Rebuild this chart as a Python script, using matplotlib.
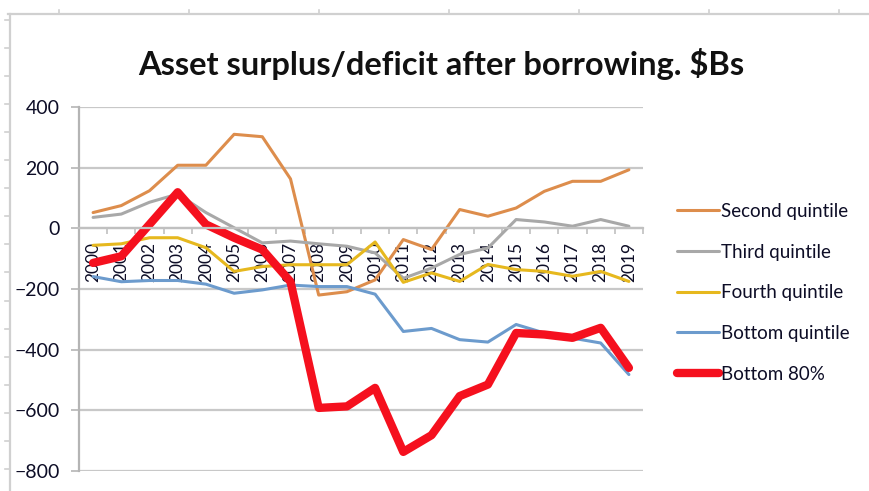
import numpy as np
import matplotlib.pyplot as plt
from matplotlib.lines import Line2D

plt.rcParams['font.family'] = ['Lato', 'DejaVu Sans']

# anni e serie (miliardi di dollari)
years = [str(y) for y in range(2000, 2020)]
second_q = [52, 75, 124, 208, 208, 310, 302, 163, -220, -209, -170, -37, -70, 62, 40, 67, 122, 155, 155, 193]
third_q = [36, 47, 86, 113, 52, 2, -48, -42, -51, -59, -81, -165, -131, -86, -65, 29, 21, 7, 29, 7]
fourth_q = [-56, -51, -31, -31, -64, -142, -126, -120, -120, -120, -45, -178, -147, -175, -119, -136, -142, -158, -142, -175]
bottom_q = [-159, -176, -172, -172, -184, -214, -203, -187, -192, -192, -217, -340, -330, -367, -375, -317, -345, -362, -378, -482]
bottom_80 = [-114, -92, 13, 119, 13, -31, -70, -176, -592, -587, -526, -737, -682, -553, -515, -345, -350, -361, -328, -460]

serie = [
    ('Second quintile', second_q, '#DD8D4C', 2.2),
    ('Third quintile', third_q, '#A8A8A8', 2.2),
    ('Fourth quintile', fourth_q, '#E6B81E', 2.2),
    ('Bottom quintile', bottom_q, '#6C9BCD', 2.2),
    ('Bottom 80%', bottom_80, '#F5101E', 6.0),
]

fig = plt.figure(figsize=(8.69, 4.91), dpi=100)
ax = fig.add_axes([79/869, 1-471/491, (643-79)/869, (471-107)/491])

x = np.arange(len(years))
for nome, valori, colore, lw in serie:
    ax.plot(x, valori, color=colore, lw=lw, label=nome, solid_capstyle='round', solid_joinstyle='round')

ax.set_xlim(-0.5, len(years) - 0.5)
ax.set_ylim(-800, 400)
ax.set_yticks(range(-800, 401, 200))
ax.yaxis.grid(True, color='#C8C8C8', lw=1.6)
ax.set_axisbelow(True)

# asse delle categorie sullo zero
for s in ['top', 'right']:
    ax.spines[s].set_visible(False)
ax.spines['left'].set_color('#B4B4B4')
ax.spines['left'].set_linewidth(1.6)
ax.spines['bottom'].set_position(('data', 0))
ax.spines['bottom'].set_color('#C0C0C0')
ax.spines['bottom'].set_linewidth(1.6)

ax.set_xticks(np.arange(-0.5, len(years), 1.0))
ax.set_xticklabels([])
ax.tick_params(axis='x', which='major', direction='out', length=4, width=1.2, color='#C0C0C0')
ax.set_xticks(x, minor=True)
ax.set_xticklabels(years, minor=True, rotation=90, fontsize=12.5, color='#0D0D26')
ax.tick_params(axis='x', which='minor', length=0, pad=10)
for t in ax.get_xticklabels(minor=True):
    t.set_verticalalignment('top')

ax.tick_params(axis='y', direction='out', length=6, width=1.4, color='#C0C0C0', pad=8, labelsize=14, labelcolor='#0D0D26')

fig.text(441/869, 1-64/491, 'Asset surplus/deficit after borrowing. $Bs', ha='center', va='center',
         fontsize=23.5, fontweight='bold', color='#111111')

leg = ax.legend(loc='upper left', bbox_to_anchor=(677/869, 1-203/491), bbox_transform=fig.transFigure,
                frameon=False, fontsize=13.5, handlelength=2.25, handletextpad=0.1, labelspacing=1.26,
                borderaxespad=0, borderpad=0)
for t in leg.get_texts():
    t.set_color('#0D0D26')

# cornice del foglio
cornice = '#D0D0D0'
fig.add_artist(Line2D([8/869, 1], [1-14/491, 1-14/491], color=cornice, lw=1.6, transform=fig.transFigure))
fig.add_artist(Line2D([10/869, 10/869], [0, 1-14/491], color=cornice, lw=1.6, transform=fig.transFigure))
for yy in np.arange(19.5, 491, 28.1):
    fig.add_artist(Line2D([5/869, 10/869], [1-yy/491, 1-yy/491], color=cornice, lw=1.2, transform=fig.transFigure))
for xx in np.arange(59, 869, 130):
    fig.add_artist(Line2D([xx/869, xx/869], [1-10/491, 1-14/491], color=cornice, lw=1.2, transform=fig.transFigure))

fig.savefig('out.png', dpi=100)
